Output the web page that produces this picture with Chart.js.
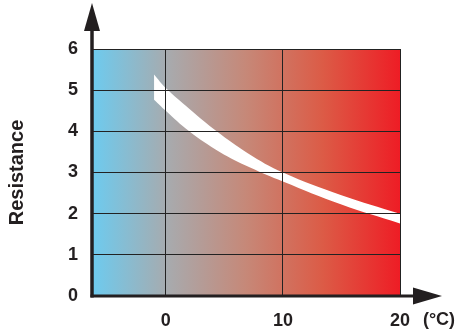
<!DOCTYPE html>
<html>
<head>
<meta charset="utf-8">
<title>Resistance</title>
<script src="https://cdn.jsdelivr.net/npm/chart.js"></script>
<style>
  html, body { margin: 0; padding: 0; background: #fff; }
</style>
</head>
<body>
<canvas id="chart" width="456" height="333"></canvas>
<script>
// valores
const tempTicks = [0, 10, 20];
const resTicks = [0, 1, 2, 3, 4, 5, 6];
const upperTemps = [-1, 0, 2, 4.35, 7, 10, 15, 20];
const upperRes = [5.38, 5.05, 4.55, 4.0, 3.47, 3.0, 2.45, 2.0];
const lowerTemps = [-1, 0, 2, 4.6, 7.2, 10, 15, 20];
const lowerRes = [4.77, 4.5, 4.0, 3.5, 3.12, 2.78, 2.22, 1.76];

const font = 'Liberation Sans, Arial, Helvetica, sans-serif';
const ink = '#231f20';

// fondo degradado azul -> rojo
const bgPlugin = {
  id: 'bg',
  beforeDatasetsDraw(chart) {
    const { ctx, chartArea: a } = chart;
    const g = ctx.createLinearGradient(a.left, 0, a.right, 0);
    g.addColorStop(0, '#6dcbef');
    g.addColorStop(0.25, '#a8aaad');
    g.addColorStop(0.5, '#c68878');
    g.addColorStop(0.75, '#dc5b46');
    g.addColorStop(1, '#ee1d25');
    ctx.save();
    ctx.fillStyle = g;
    ctx.fillRect(a.left, a.top, a.right - a.left, a.bottom - a.top);
    ctx.restore();
  }
};

// ejes con flechas y unidad
const axesPlugin = {
  id: 'axes',
  afterDraw(chart) {
    const { ctx, chartArea: a } = chart;
    ctx.save();
    ctx.strokeStyle = ink;
    ctx.fillStyle = ink;
    ctx.lineWidth = 3.5;
    ctx.beginPath();
    ctx.moveTo(a.left, a.bottom + 1.5);
    ctx.lineTo(a.left, 28);
    ctx.stroke();
    ctx.lineWidth = 3;
    ctx.beginPath();
    ctx.moveTo(a.left - 1.5, a.bottom);
    ctx.lineTo(416, a.bottom);
    ctx.stroke();
    ctx.beginPath();
    ctx.moveTo(a.left, 3);
    ctx.lineTo(a.left - 8, 31);
    ctx.lineTo(a.left + 8, 31);
    ctx.closePath();
    ctx.fill();
    ctx.beginPath();
    ctx.moveTo(442, a.bottom);
    ctx.lineTo(413, a.bottom - 8.5);
    ctx.lineTo(413, a.bottom + 8.5);
    ctx.closePath();
    ctx.fill();
    ctx.font = 'bold 18px ' + font;
    ctx.textAlign = 'center';
    ctx.textBaseline = 'middle';
    ctx.fillText('(°C)', 439, 320);
    ctx.restore();
  }
};

new Chart(document.getElementById('chart'), {
  type: 'line',
  data: {
    datasets: [
      {
        data: upperTemps.map((t, i) => ({ x: t, y: upperRes[i] })),
        borderWidth: 0,
        pointRadius: 0,
        backgroundColor: '#ffffff',
        fill: '+1',
        tension: 0.4
      },
      {
        data: lowerTemps.map((t, i) => ({ x: t, y: lowerRes[i] })),
        borderWidth: 0,
        pointRadius: 0,
        fill: false,
        tension: 0.4
      }
    ]
  },
  options: {
    responsive: false,
    animation: false,
    layout: { padding: { left: 0, top: 49, right: 56, bottom: 0 } },
    plugins: { legend: { display: false }, tooltip: { enabled: false } },
    scales: {
      x: {
        type: 'linear',
        min: -6.3,
        max: 20,
        afterBuildTicks: (s) => { s.ticks = tempTicks.map((v) => ({ value: v })); },
        afterFit: (s) => { s.height = 37; },
        grid: { z: 1, color: '#222222', lineWidth: 1, drawTicks: false },
        border: { display: false },
        ticks: { padding: 14, color: ink, font: { family: font, size: 18, weight: 'bold' } }
      },
      y: {
        min: 0,
        max: 6,
        afterBuildTicks: (s) => { s.ticks = resTicks.map((v) => ({ value: v })); },
        afterFit: (s) => { s.width = 92; },
        grid: { z: 1, color: '#222222', lineWidth: 1, drawTicks: false },
        border: { display: false },
        ticks: { padding: 14, color: ink, font: { family: font, size: 18, weight: 'bold' } },
        title: {
          display: true,
          text: 'Resistance',
          color: ink,
          padding: { top: 5, bottom: 0 },
          font: { family: font, size: 20, weight: 'bold' }
        }
      }
    }
  },
  plugins: [bgPlugin, axesPlugin]
});
</script>
</body>
</html>
